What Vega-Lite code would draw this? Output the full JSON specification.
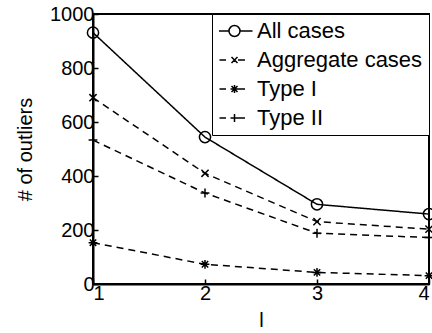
{
  "$schema": "https://vega.github.io/schema/vega-lite/v6.json",
  "width": 336,
  "height": 270,
  "autosize": "none",
  "padding": {"left": 93, "top": 14, "right": 3, "bottom": 49},
  "background": "white",
  "config": {
    "font": "Liberation Sans",
    "view": {"stroke": "black", "strokeWidth": 2},
    "axis": {
      "domainColor": "black", "domainWidth": 2, "tickColor": "black", "tickWidth": 1.5,
      "tickSize": -5, "labelColor": "black", "labelFontSize": 20, "labelPadding": 4,
      "titleColor": "black", "titleFontSize": 20, "titleFontWeight": "normal", "grid": false
    },
    "legend": {
      "labelFontSize": 22, "labelColor": "black", "labelLimit": 400
    }
  },
  "data": {
    "values": [
      {"series": "All cases", "l": 1, "outliers": 931},
      {"series": "All cases", "l": 2, "outliers": 544},
      {"series": "All cases", "l": 3, "outliers": 295},
      {"series": "All cases", "l": 4, "outliers": 259},
      {"series": "Aggregate cases", "l": 1, "outliers": 690},
      {"series": "Aggregate cases", "l": 2, "outliers": 410},
      {"series": "Aggregate cases", "l": 3, "outliers": 231},
      {"series": "Aggregate cases", "l": 4, "outliers": 203},
      {"series": "Type I", "l": 1, "outliers": 153},
      {"series": "Type I", "l": 2, "outliers": 73},
      {"series": "Type I", "l": 3, "outliers": 43},
      {"series": "Type I", "l": 4, "outliers": 31},
      {"series": "Type II", "l": 1, "outliers": 533},
      {"series": "Type II", "l": 2, "outliers": 337},
      {"series": "Type II", "l": 3, "outliers": 188},
      {"series": "Type II", "l": 4, "outliers": 172}
    ]
  },
  "encoding": {
    "x": {
      "field": "l", "type": "quantitative",
      "scale": {"domain": [1, 4], "nice": false, "zero": false},
      "axis": {"values": [1, 2, 3, 4], "format": "d", "title": "l", "titleX": 168, "titleY": 36, "titleBaseline": "middle"}
    },
    "y": {
      "field": "outliers", "type": "quantitative",
      "scale": {"domain": [0, 1000], "nice": false},
      "axis": {"values": [0, 200, 400, 600, 800, 1000], "format": "d", "title": "# of outliers", "titleX": -68, "titleY": 135, "titleBaseline": "middle"}
    }
  },
  "resolve": {"scale": {"shape": "independent"}},
  "layer": [
    {
      "mark": {"type": "line", "color": "black", "strokeWidth": 1.5},
      "encoding": {
        "strokeDash": {
          "field": "series", "type": "nominal",
          "scale": {"domain": ["All cases", "Aggregate cases", "Type I", "Type II"], "range": [[1, 0], [7, 5], [7, 5], [7, 5]]},
          "legend": null
        }
      }
    },
    {
      "mark": {"type": "point", "filled": false, "color": "black", "strokeWidth": 1.5, "opacity": 1, "size": 64},
      "encoding": {
        "shape": {
          "field": "series", "type": "nominal",
          "scale": {
            "domain": ["All cases", "Aggregate cases", "Type I", "Type II"],
            "range": [
              "M1.4,0A1.4,1.4 0 1,1 -1.4,0A1.4,1.4 0 1,1 1.4,0",
              "M-0.9,-0.9L0.9,0.9M-0.9,0.9L0.9,-0.9",
              "M-1.1,0L1.1,0M0,-1.1L0,1.1M-0.8,-0.8L0.8,0.8M-0.8,0.8L0.8,-0.8",
              "M-1.1,0L1.1,0M0,-1.1L0,1.1"
            ]
          },
          "legend": null
        }
      }
    },
    {
      "mark": {"type": "point", "filled": false, "color": "black", "strokeWidth": 1.5, "opacity": 0, "size": 100},
      "encoding": {
        "shape": {
          "field": "series", "type": "nominal",
          "scale": {
            "domain": ["All cases", "Aggregate cases", "Type I", "Type II"],
            "range": [
              "M-2,0L0,0M2.2,0L4.7,0M2.2,0A1.1,1.1 0 1,1 0,0A1.1,1.1 0 1,1 2.2,0",
              "M-1.9,0L-0.6,0M1.8,0L3.2,0M0.5,-0.6L1.7,0.6M0.5,0.6L1.7,-0.6",
              "M-1.9,0L-0.6,0M1.8,0L3.2,0M0.3,0L1.9,0M1.1,-0.8L1.1,0.8M0.5,-0.6L1.7,0.6M0.5,0.6L1.7,-0.6",
              "M-1.9,0L-0.6,0M1.8,0L3.2,0M0.3,0L1.9,0M1.1,-0.8L1.1,0.8"
            ]
          },
          "legend": {
            "title": null, "orient": "top-right", "offset": 0,
            "strokeColor": "black", "fillColor": "white", "padding": 6,
            "symbolSize": 100, "labelOffset": 17, "rowPadding": 7,
            "labelLimit": 400,
            "symbolOpacity": 1, "symbolStrokeColor": "black", "symbolStrokeWidth": 1.5,
            "symbolFillColor": "transparent"
          }
        }
      }
    }
  ]
}
